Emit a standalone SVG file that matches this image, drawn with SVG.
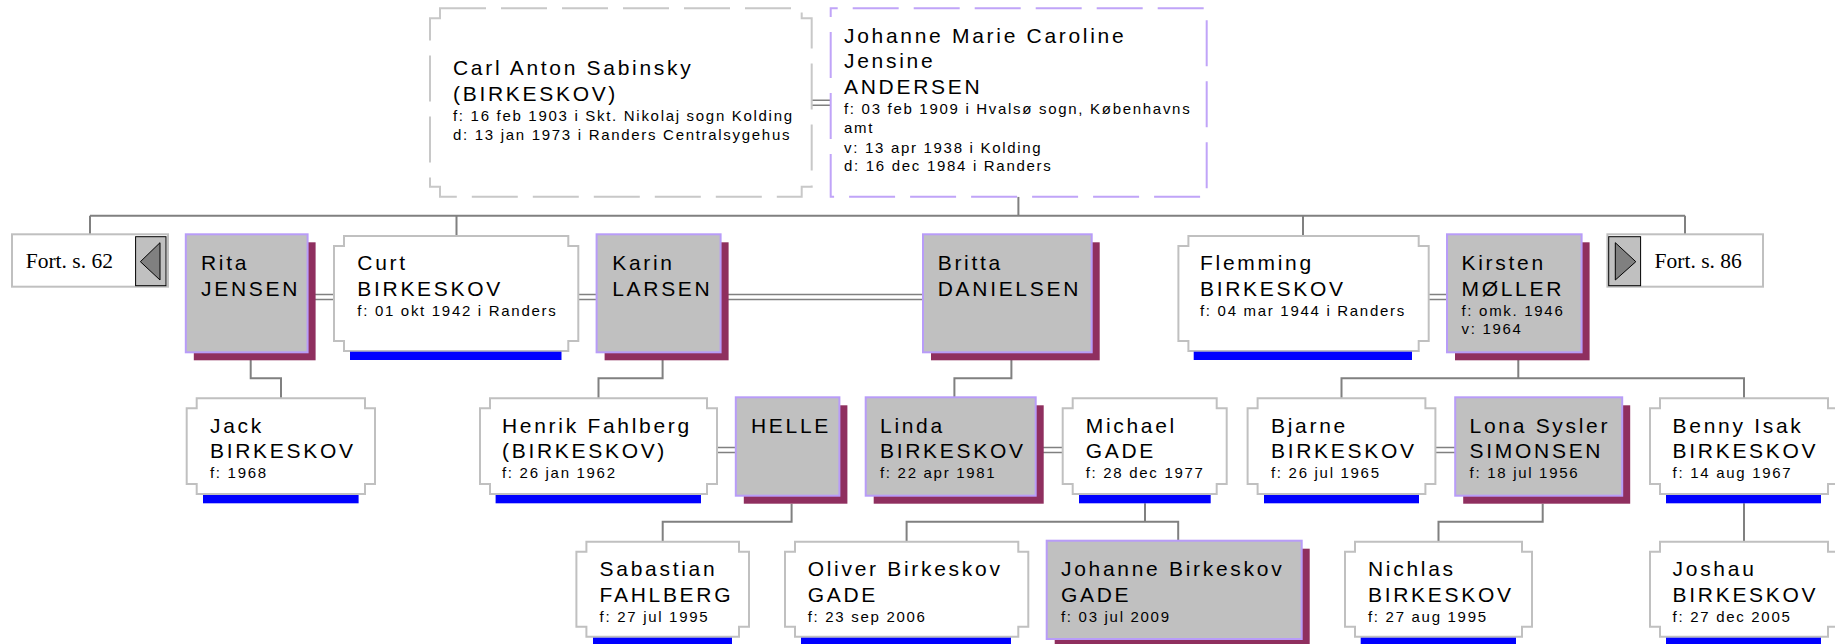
<svg xmlns="http://www.w3.org/2000/svg" width="1835" height="644" viewBox="0 0 1835 644">
<style>
.nb{fill:#fff;stroke:#c0c0c0;stroke-width:2}
.gb{fill:#c0c0c0;stroke:#b89cf8;stroke-width:2}
.sh{fill:#8f2f5f}
.bar{fill:#0000ff}
.ln{stroke:#808080;stroke-width:2;fill:none}
.dl{stroke:#808080;stroke-width:1.5;fill:none}
.fb{fill:#fff;stroke:#c0c0c0;stroke-width:2}
.fi{fill:#c0c0c0;stroke:#000;stroke-width:1}
.tri{fill:#808080;stroke:#000;stroke-width:1}
text{font-family:'Liberation Sans',Arial,sans-serif;fill:#000}
.nm{font-size:21px;letter-spacing:2.7px}
.sm{font-size:15px;letter-spacing:1.7px}
.ft{font-family:'Liberation Serif','Times New Roman',serif;font-size:21.5px;letter-spacing:0}
</style>
<g id="connectors">
<path class="ln" d="M1018.4,196.7V215.7M90,215.7H1685M90,215.7V234.3M456.5,215.7V236M1303,215.7V236M1685,215.7V234.3"/>
<path class="ln" d="M250.7,360V378.3H281V398.3"/>
<path class="ln" d="M662.6,360V378.3H598.5V398.3"/>
<path class="ln" d="M1011.4,360V378.3H954.4V397.3"/>
<path class="ln" d="M1518.3,360V378.3M1341.5,398.3V378.3H1744V398.3"/>
<path class="ln" d="M791.6,503.7V521.7H662.7V541.7"/>
<path class="ln" d="M1145,503.3V521.7M906.6,541.7V521.7H1178.2V540.7"/>
<path class="ln" d="M1542.7,503.7V521.7H1438.5V541.7"/>
<path class="ln" d="M1744,503.3V541.7"/>
<path class="dl" d="M811.7,100.2H830.7M811.7,105.2H830.7"/>
<path class="dl" d="M307.6,294.5H334M307.6,299.5H334"/>
<path class="dl" d="M578.3,294.5H596.6M578.3,299.5H596.6"/>
<path class="dl" d="M720.6,294.5H923M720.6,299.5H923"/>
<path class="dl" d="M1428.7,294.5H1447M1428.7,299.5H1447"/>
<path class="dl" d="M717,447.5H735.8M717,452.5H735.8"/>
<path class="dl" d="M1035.7,447.5H1062.7M1035.7,452.5H1062.7"/>
<path class="dl" d="M1435.4,447.5H1455.2M1435.4,452.5H1455.2"/>
</g>
<g id="carl">
<path d="M440,8.3H801.7V18.3H811.7V186.7H801.7V196.7H440V186.7H430V18.3H440Z" fill="#fff" stroke="#c8c8c8" stroke-width="2" stroke-dasharray="46 15"/>
<text class="nm" x="453" y="75">Carl Anton Sabinsky</text>
<text class="nm" x="453" y="100.7">(BIRKESKOV)</text>
<text class="sm" x="453" y="121">f: 16 feb 1903 i Skt. Nikolaj sogn Kolding</text>
<text class="sm" x="453" y="140">d: 13 jan 1973 i Randers Centralsygehus</text>
</g>
<g id="johanne">
<rect x="830.7" y="8.3" width="376" height="188.4" fill="#fff" stroke="#c0a4f8" stroke-width="2" stroke-dasharray="46 15" stroke-dashoffset="39"/>
<text class="nm" x="844" y="42.7">Johanne Marie Caroline</text>
<text class="nm" x="844" y="68.3">Jensine</text>
<text class="nm" x="844" y="94">ANDERSEN</text>
<text class="sm" x="844" y="114.3">f: 03 feb 1909 i Hvalsø sogn, Københavns</text>
<text class="sm" x="844" y="133.3">amt</text>
<text class="sm" x="844" y="153.3">v: 13 apr 1938 i Kolding</text>
<text class="sm" x="844" y="171">d: 16 dec 1984 i Randers</text>
</g>
<g id="fort62">
<rect class="fb" x="12" y="234.3" width="156" height="52.4"/>
<rect class="fi" x="135.6" y="236.7" width="30.4" height="49"/>
<polygon class="tri" points="140.4,261.7 160,242.7 160,280"/>
<text class="ft" x="25.7" y="268">Fort. s. 62</text>
</g>
<g id="rita">
<rect class="sh" x="193.8" y="242.3" width="121.8" height="118"/>
<rect class="gb" x="185.8" y="234.3" width="121.8" height="118"/>
<text class="nm" x="201" y="270">Rita</text>
<text class="nm" x="201" y="296">JENSEN</text>
</g>
<g id="curt">
<path class="nb" d="M344,236H568.3V246H578.3V341H568.3V351H344V341H334V246H344Z"/>
<rect class="bar" x="350" y="351.7" width="211.5" height="8.3"/>
<text class="nm" x="357.3" y="270">Curt</text>
<text class="nm" x="357.3" y="295.7">BIRKESKOV</text>
<text class="sm" x="357.3" y="315.7">f: 01 okt 1942 i Randers</text>
</g>
<g id="karin">
<rect class="sh" x="604.6" y="242.3" width="124" height="118"/>
<rect class="gb" x="596.6" y="234.3" width="124" height="118"/>
<text class="nm" x="612.2" y="270">Karin</text>
<text class="nm" x="612.2" y="296">LARSEN</text>
</g>
<g id="britta">
<rect class="sh" x="931" y="242.3" width="168.7" height="118"/>
<rect class="gb" x="923" y="234.3" width="168.7" height="118"/>
<text class="nm" x="937.7" y="270">Britta</text>
<text class="nm" x="937.7" y="296">DANIELSEN</text>
</g>
<g id="flemming">
<path class="nb" d="M1188.4,236H1418.7V246H1428.7V341H1418.7V351H1188.4V341H1178.4V246H1188.4Z"/>
<rect class="bar" x="1193.7" y="351.7" width="218.3" height="8.3"/>
<text class="nm" x="1200" y="270">Flemming</text>
<text class="nm" x="1200" y="295.7">BIRKESKOV</text>
<text class="sm" x="1200" y="315.7">f: 04 mar 1944 i Randers</text>
</g>
<g id="kirsten">
<rect class="sh" x="1455" y="242.3" width="134.6" height="118"/>
<rect class="gb" x="1447" y="234.3" width="134.6" height="118"/>
<text class="nm" x="1461.5" y="270">Kirsten</text>
<text class="nm" x="1461.5" y="296">MØLLER</text>
<text class="sm" x="1461.5" y="315.7">f: omk. 1946</text>
<text class="sm" x="1461.5" y="334.3">v: 1964</text>
</g>
<g id="fort86">
<rect class="fb" x="1607.4" y="234.3" width="155.6" height="52.4"/>
<rect class="fi" x="1608.7" y="236.7" width="31.9" height="49"/>
<polygon class="tri" points="1635.8,261.7 1615.3,242.7 1615.3,280"/>
<text class="ft" x="1654.6" y="268">Fort. s. 86</text>
</g>
<g id="jack">
<path class="nb" d="M196.7,398.3H365V408.3H375V484H365V494H196.7V484H186.7V408.3H196.7Z"/>
<rect class="bar" x="203" y="495" width="155.6" height="8.3"/>
<text class="nm" x="210" y="433.3">Jack</text>
<text class="nm" x="210" y="458.3">BIRKESKOV</text>
<text class="sm" x="210" y="478.3">f: 1968</text>
</g>
<g id="henrik">
<path class="nb" d="M490,398.3H707V408.3H717V484H707V494H490V484H480V408.3H490Z"/>
<rect class="bar" x="495.6" y="495" width="205.4" height="8.3"/>
<text class="nm" x="502" y="433.3">Henrik Fahlberg</text>
<text class="nm" x="502" y="458.3">(BIRKESKOV)</text>
<text class="sm" x="502" y="478.3">f: 26 jan 1962</text>
</g>
<g id="helle">
<rect class="sh" x="743.8" y="405.3" width="103.6" height="98.4"/>
<rect class="gb" x="735.8" y="397.3" width="103.6" height="98.4"/>
<text class="nm" x="751" y="433">HELLE</text>
</g>
<g id="linda">
<rect class="sh" x="873.7" y="405.3" width="170" height="98.4"/>
<rect class="gb" x="865.7" y="397.3" width="170" height="98.4"/>
<text class="nm" x="880" y="433.3">Linda</text>
<text class="nm" x="880" y="458.3">BIRKESKOV</text>
<text class="sm" x="880" y="478.3">f: 22 apr 1981</text>
</g>
<g id="michael">
<path class="nb" d="M1072.7,398.3H1216.7V408.3H1226.7V484H1216.7V494H1072.7V484H1062.7V408.3H1072.7Z"/>
<rect class="bar" x="1079" y="495" width="131.7" height="8.3"/>
<text class="nm" x="1085.7" y="433.3">Michael</text>
<text class="nm" x="1085.7" y="458.3">GADE</text>
<text class="sm" x="1085.7" y="478.3">f: 28 dec 1977</text>
</g>
<g id="bjarne">
<path class="nb" d="M1257.6,398.3H1425.4V408.3H1435.4V484H1425.4V494H1257.6V484H1247.6V408.3H1257.6Z"/>
<rect class="bar" x="1264" y="495" width="155" height="8.3"/>
<text class="nm" x="1271" y="433.3">Bjarne</text>
<text class="nm" x="1271" y="458.3">BIRKESKOV</text>
<text class="sm" x="1271" y="478.3">f: 26 jul 1965</text>
</g>
<g id="lona">
<rect class="sh" x="1463.2" y="405.3" width="167" height="98.4"/>
<rect class="gb" x="1455.2" y="397.3" width="167" height="98.4"/>
<text class="nm" x="1469.6" y="433.3">Lona Sysler</text>
<text class="nm" x="1469.6" y="458.3">SIMONSEN</text>
<text class="sm" x="1469.6" y="478.3">f: 18 jul 1956</text>
</g>
<g id="benny">
<path class="nb" d="M1660,398.3H1828V408.3H1838V484H1828V494H1660V484H1650V408.3H1660Z"/>
<rect class="bar" x="1666" y="495" width="155" height="8.3"/>
<text class="nm" x="1672.6" y="433.3">Benny Isak</text>
<text class="nm" x="1672.6" y="458.3">BIRKESKOV</text>
<text class="sm" x="1672.6" y="478.3">f: 14 aug 1967</text>
</g>
<g id="sabastian">
<path class="nb" d="M586.4,541.7H739V551.7H749V626.7H739V636.7H586.4V626.7H576.4V551.7H586.4Z"/>
<rect class="bar" x="593" y="637.7" width="139" height="8.3"/>
<text class="nm" x="599.6" y="576">Sabastian</text>
<text class="nm" x="599.6" y="601.7">FAHLBERG</text>
<text class="sm" x="599.6" y="622.3">f: 27 jul 1995</text>
</g>
<g id="oliver">
<path class="nb" d="M795,541.7H1018.3V551.7H1028.3V626.7H1018.3V636.7H795V626.7H785V551.7H795Z"/>
<rect class="bar" x="801" y="637.7" width="210" height="8.3"/>
<text class="nm" x="807.7" y="576">Oliver Birkeskov</text>
<text class="nm" x="807.7" y="601.7">GADE</text>
<text class="sm" x="807.7" y="622.3">f: 23 sep 2006</text>
</g>
<g id="johanne-gade">
<rect class="sh" x="1054.7" y="548.7" width="255" height="98.3"/>
<rect class="gb" x="1046.7" y="540.7" width="255" height="98.3"/>
<text class="nm" x="1061" y="576">Johanne Birkeskov</text>
<text class="nm" x="1061" y="601.7">GADE</text>
<text class="sm" x="1061" y="622.3">f: 03 jul 2009</text>
</g>
<g id="nichlas">
<path class="nb" d="M1355,541.7H1522V551.7H1532V626.7H1522V636.7H1355V626.7H1345V551.7H1355Z"/>
<rect class="bar" x="1360.7" y="637.7" width="155.3" height="8.3"/>
<text class="nm" x="1368" y="576">Nichlas</text>
<text class="nm" x="1368" y="601.7">BIRKESKOV</text>
<text class="sm" x="1368" y="622.3">f: 27 aug 1995</text>
</g>
<g id="joshau">
<path class="nb" d="M1660,541.7H1828V551.7H1838V626.7H1828V636.7H1660V626.7H1650V551.7H1660Z"/>
<rect class="bar" x="1666" y="637.7" width="155" height="8.3"/>
<text class="nm" x="1672.6" y="576">Joshau</text>
<text class="nm" x="1672.6" y="601.7">BIRKESKOV</text>
<text class="sm" x="1672.6" y="622.3">f: 27 dec 2005</text>
</g>
</svg>
